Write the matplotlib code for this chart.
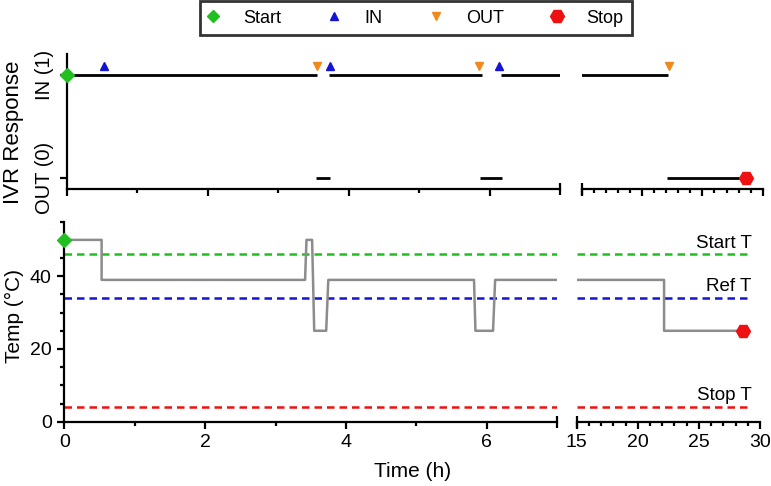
import numpy as np
import matplotlib
matplotlib.use("Agg")
import matplotlib.pyplot as plt
from matplotlib.lines import Line2D
from matplotlib.ticker import MultipleLocator, FixedLocator

plt.rcParams['font.family'] = ['Liberation Sans', 'DejaVu Sans']

# -------DATA--------

# temperature trace (h, degC)
time_h = [0, 0.53, 0.53, 3.42, 3.44, 3.52, 3.55, 3.72, 3.75, 5.82, 5.84, 6.09, 6.12, 22.15, 22.15, 28.6]
temp_c = [50, 50, 39, 39, 50, 50, 25, 25, 39, 39, 25, 25, 39, 39, 25, 25]

# IVR response periods
in_start = [0, 3.72, 6.16]
in_end = [3.55, 5.89, 22.17]
out_start = [3.54, 5.86, 22.05]
out_end = [3.74, 6.17, 28.65]

in_times = [0.53, 3.73, 6.13]
out_times = [3.55, 5.85, 22.2]
start_time = 0
stop_time_ivr = 28.65
stop_time_temp = 28.6
start_temp = 50
stop_temp = 25

thr_labels = ['Start T', 'Ref T', 'Stop T']
thr_values = [46, 34, 4]

# ------STYLE-------
green = '#1fc01f'
blue = '#1414d2'
orange = '#f08a1e'
red = '#ee1111'
grey = '#8c8c8c'
thr_colors = [green, blue, red]

W, H = 771, 486
fig = plt.figure(figsize=(W / 100, H / 100), dpi=100)


def px(x0, y0, x1, y1):
    return [x0 / W, 1 - y1 / H, (x1 - x0) / W, (y1 - y0) / H]


ax_tl = fig.add_axes(px(66.7, 54, 560.2, 189))
ax_tr = fig.add_axes(px(581.7, 54, 762.7, 189))
ax_bl = fig.add_axes(px(64.3, 221.7, 557.1, 421.7))
ax_br = fig.add_axes(px(576.7, 221.7, 760, 421.7))

for ax in [ax_tl, ax_tr, ax_bl, ax_br]:
    ax.spines['top'].set_visible(False)
    ax.spines['right'].set_visible(False)
    ax.spines['left'].set_linewidth(1.6)
    ax.spines['bottom'].set_linewidth(1.6)
    ax.tick_params(which='major', direction='out', length=5, width=1.6, labelsize=14, pad=4)
    ax.tick_params(which='minor', direction='out', length=3, width=1.6)

for ax in [ax_tl, ax_bl]:
    ax.set_xlim(0, 7)
    ax.xaxis.set_major_locator(FixedLocator([0, 2, 4, 6]))
    ax.xaxis.set_minor_locator(FixedLocator([1, 3, 5]))

for ax in [ax_tr, ax_br]:
    ax.set_xlim(15, 30)
    ax.xaxis.set_major_locator(FixedLocator([15, 20, 25, 30]))
    ax.xaxis.set_minor_locator(MultipleLocator(1))
    ax.spines['left'].set_visible(False)
    ax.tick_params(axis='y', which='both', left=False, labelleft=False)

# break caps on the x axes
for ax, xc in [(ax_tl, 1), (ax_bl, 1), (ax_tr, 0), (ax_br, 0)]:
    ax.plot([xc], [0], transform=ax.transAxes, marker='|', ms=9, mew=1.6,
            color='k', clip_on=False, zorder=5)

# ------IVR PANELS-------
for ax in [ax_tl, ax_tr]:
    ax.set_ylim(-0.107, 1.204)
    ax.tick_params(axis='x', labelbottom=False)
    ax.hlines([1] * len(in_start), in_start, in_end, color='k', lw=2)
    ax.hlines([0] * len(out_start), out_start, out_end, color='k', lw=2)
    ax.plot(in_times, [1.09] * len(in_times), ls='none', marker='^', ms=6, color=blue)
    ax.plot(out_times, [1.09] * len(out_times), ls='none', marker='v', ms=6, color=orange)

ax_tl.set_yticks([0, 1])
ax_tl.set_yticklabels(['OUT (0)', 'IN (1)'], rotation=90, va='center', fontsize=14.5)
ax_tl.plot([start_time], [1], marker='D', ms=7, color=green, clip_on=False, zorder=6)
ax_tr.plot([stop_time_ivr], [0], marker='H', ms=10, color=red, clip_on=False, zorder=6)

# ------TEMP PANELS-------
for ax in [ax_bl, ax_br]:
    ax.set_ylim(0, 55)
    ax.plot(time_h, temp_c, color=grey, lw=1.8, zorder=3)

for v, c in zip(thr_values, thr_colors):
    ax_bl.hlines(v, 0, 7, color=c, lw=1.8, linestyles=[(0, (3, 2))])
    ax_br.hlines(v, 15, 29.3, color=c, lw=1.8, linestyles=[(0, (3, 2))])

for lab, v in zip(thr_labels, thr_values):
    ax_br.text(29.3, v + 0.8, lab, ha='right', va='bottom', fontsize=13.5)

ax_bl.yaxis.set_major_locator(FixedLocator([0, 20, 40]))
ax_bl.yaxis.set_minor_locator(MultipleLocator(5))
ax_bl.plot([start_time], [start_temp], marker='D', ms=7, color=green, clip_on=False, zorder=6)
ax_br.plot([stop_time_temp], [stop_temp], marker='H', ms=10, color=red, clip_on=False, zorder=6)

# ------LABELS-------
fig.text(14 / W, 1 - 132 / H, 'IVR Response', rotation=90, ha='center', va='center', fontsize=16)
fig.text(14 / W, 1 - 316 / H, 'Temp (°C)', rotation=90, ha='center', va='center', fontsize=15)
fig.text(413 / W, 1 - 471 / H, 'Time (h)', ha='center', va='center', fontsize=15)

handles = [
    Line2D([], [], ls='none', marker='D', ms=6, color=green),
    Line2D([], [], ls='none', marker='^', ms=6, color=blue),
    Line2D([], [], ls='none', marker='v', ms=6, color=orange),
    Line2D([], [], ls='none', marker='H', ms=10, color=red),
]
leg = fig.legend(handles, ['Start', 'IN', 'OUT', 'Stop'], loc='upper center',
                 bbox_to_anchor=(416 / W, 1 - 1.5 / H), borderaxespad=0, ncol=4,
                 fontsize=13, frameon=True, fancybox=False, handlelength=0.55,
                 handletextpad=1.39, columnspacing=2.66, borderpad=0.45)
leg.get_frame().set_edgecolor('k')
leg.get_frame().set_linewidth(2)

fig.savefig('out.png', dpi=100)
